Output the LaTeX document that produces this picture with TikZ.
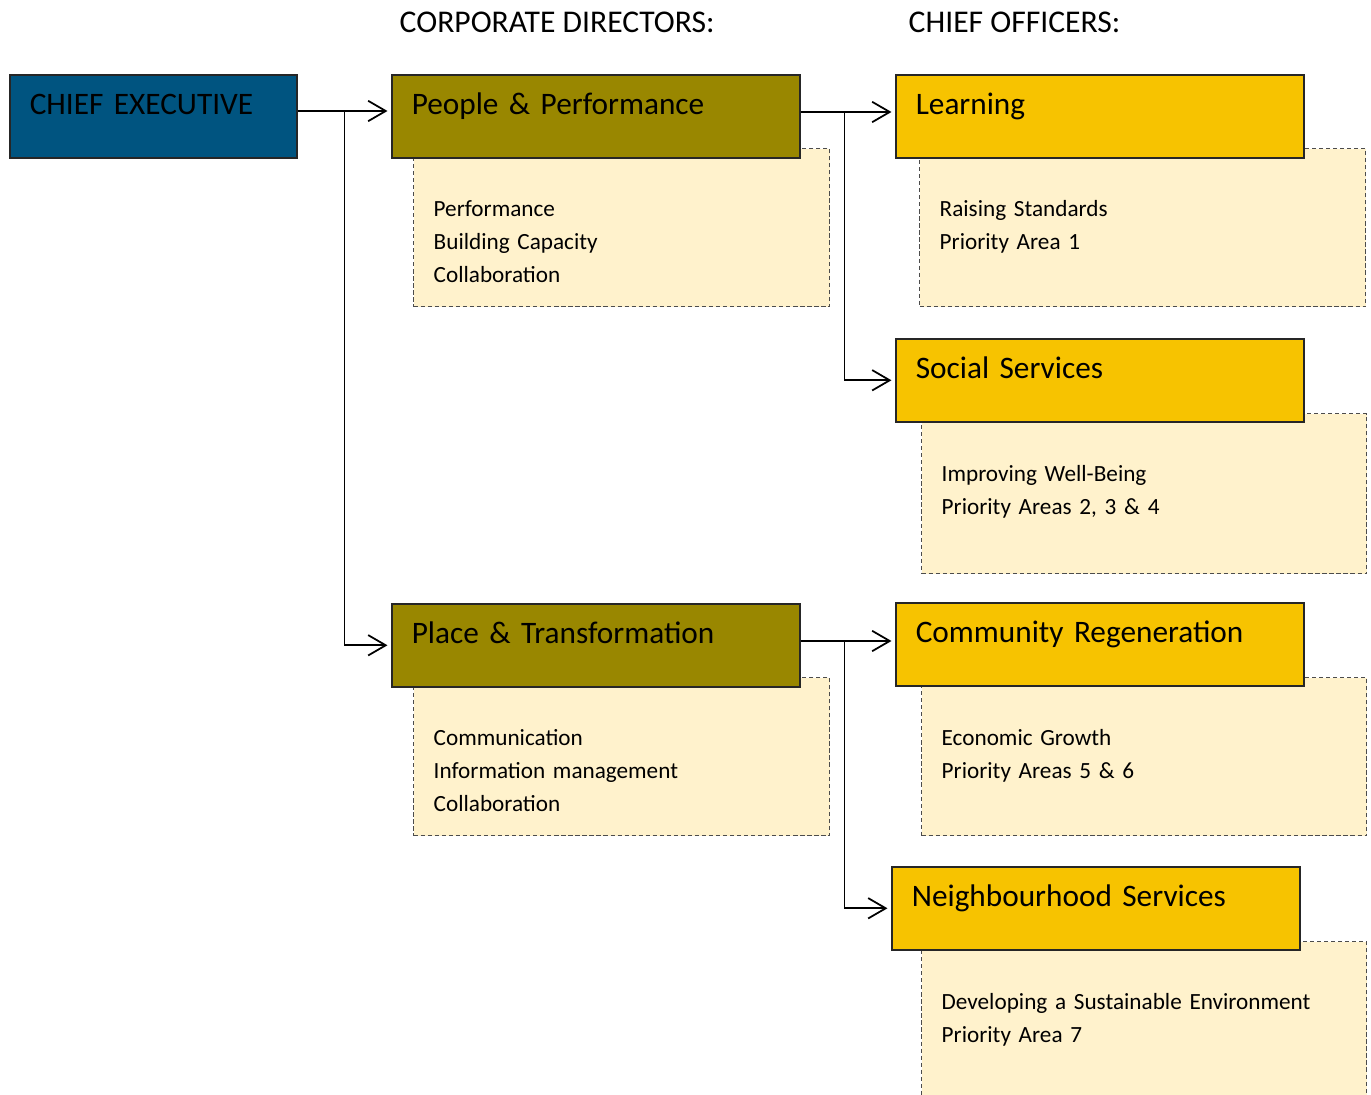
\documentclass[tikz,border=0pt]{standalone}
\usepackage{fontspec}
\setmainfont{Carlito}
\usepackage{xcolor}
\usetikzlibrary{positioning,arrows.meta,calc}

\definecolor{ceblue}{RGB}{0,84,128}
\definecolor{dirolive}{RGB}{153,135,0}
\definecolor{offgold}{RGB}{247,195,0}
\definecolor{notefill}{RGB}{255,242,204}

\begin{document}
\begin{tikzpicture}[
    head/.style={anchor=base west, inner sep=0pt, font=\fontsize{9}{11}\selectfont},
    title/.style={draw=black!85, line width=0.45pt, anchor=north west, fill=#1,
        minimum height=0.83cm, inner xsep=0.2cm, inner ysep=0pt,
        text height=0.40cm, text depth=0.43cm, align=left,
        font=\fontsize{8.9}{10.5}\selectfont},
    note/.style={draw=black!70, dashed, dash pattern=on 1.2pt off 0.8pt, line width=0.4pt,
        fill=notefill, anchor=north west, minimum height=1.58cm},
    notetext/.style={anchor=base west, xshift=0.2cm, yshift=-0.685cm, inner sep=0pt,
        text width=4.2cm, align=left, font=\fontsize{6.6}{9.4}\selectfont},
    link/.style={draw=black, line width=0.5pt, -{Straight Barb[length=5pt,width=5.8pt]}, shorten >=1pt}
]
\useasboundingbox (0,0) rectangle (13.71,-10.95);

% column headings
\node[head] (hdir) at (3.99,-0.33) {CORPORATE DIRECTORS:};
\node[head] (hoff) at (9.08,-0.33) {CHIEF OFFICERS:};

% notes under each box (drawn first, boxes overlap them)
\node[note, minimum width=4.16cm, label={[notetext]north west:Performance\\Building Capacity\\Collaboration}] (nPP) at (4.13,-1.48) {};
\node[note, minimum width=4.16cm, label={[notetext]north west:Communication\\Information management\\Collaboration}] (nPT) at (4.13,-6.77) {};
\node[note, minimum width=4.46cm, label={[notetext]north west:Raising Standards\\Priority Area 1}] (nL) at (9.19,-1.48) {};
\node[note, minimum width=4.45cm, minimum height=1.60cm, label={[notetext]north west:Improving Well-Being\\Priority Areas 2, 3 \& 4}] (nSS) at (9.21,-4.13) {};
\node[note, minimum width=4.45cm, label={[notetext]north west:Economic Growth\\Priority Areas 5 \& 6}] (nCR) at (9.21,-6.77) {};
\node[note, minimum width=4.45cm, minimum height=1.70cm, label={[notetext]north west:Developing a Sustainable Environment\\Priority Area 7}] (nNS) at (9.21,-9.41) {};

% chief executive
\node[title=ceblue, minimum width=2.87cm, text width=2.47cm] (ce) at (0.09,-0.74) {CHIEF EXECUTIVE};

% corporate directors
\node[title=dirolive, minimum width=4.08cm, text width=3.68cm] (pp) at (3.91,-0.74) {People \& Performance};
\node[title=dirolive, minimum width=4.08cm, text width=3.68cm] (pt) at (3.91,-6.03) {Place \& Transformation};

% chief officers
\node[title=offgold, minimum width=4.08cm, text width=3.68cm] (lrn) at (8.95,-0.74) {Learning};
\node[title=offgold, minimum width=4.08cm, text width=3.68cm] (ss) at (8.95,-3.38) {Social Services};
\node[title=offgold, minimum width=4.08cm, text width=3.68cm] (cr) at (8.95,-6.02) {Community Regeneration};
\node[title=offgold, minimum width=4.08cm, text width=3.68cm] (ns) at (8.91,-8.66) {Neighbourhood Services};

% connectors
\coordinate (ceJ) at ($(ce.north east)+(0.47,-0.37)$);
\coordinate (ppJ) at ($(pp.north east)+(0.44,-0.38)$);
\coordinate (ptJ) at ($(pt.north east)+(0.44,-0.38)$);

\draw[link] (ce.east |- ceJ) -- (pp.west |- ceJ);
\draw[link] (ceJ) |- (pt.west);
\draw[link] (pp.east |- ppJ) -- (lrn.west |- ppJ);
\draw[link] (ppJ) |- (ss.west);
\draw[link] (pt.east |- ptJ) -- (cr.west |- ptJ);
\draw[link] (ptJ) |- (ns.west);

\end{tikzpicture}
\end{document}
